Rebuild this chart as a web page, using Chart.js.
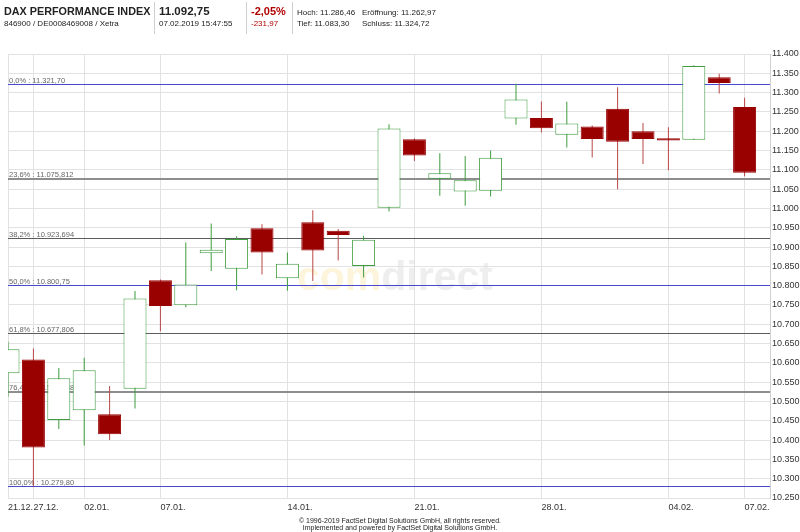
<!DOCTYPE html>
<html>
<head>
<meta charset="utf-8">
<script src="https://cdn.jsdelivr.net/npm/chart.js@4.4.1/dist/chart.umd.min.js"></script>
<style>
body { margin: 0; background: #fff; }
#wrap { position: relative; width: 800px; height: 532px; font-family: "Liberation Sans", Arial, sans-serif; color: #222; overflow: hidden; }
canvas { position: absolute; left: 0; top: 0; }
.t { position: absolute; white-space: nowrap; line-height: 1; }
.b { font-weight: bold; }
.s { font-size: 8px; }
.red { color: #b00000; }
.sep { position: absolute; top: 2px; width: 1px; height: 32px; background: #cfcfcf; }
.foot { position: absolute; left: 0; width: 800px; text-align: center; font-size: 7px; line-height: 1; }
</style>
</head>
<body>
<div id="wrap">
  <canvas id="dax" width="800" height="532"></canvas>
  <div class="t b" style="left:4px;top:6px;font-size:10.8px">DAX PERFORMANCE INDEX</div>
  <div class="t s" style="left:4px;top:20px">846900 / DE0008469008 / Xetra</div>
  <div class="sep" style="left:154px"></div>
  <div class="t b" style="left:159px;top:6px;font-size:11.5px">11.092,75</div>
  <div class="t s" style="left:159px;top:20px">07.02.2019 15:47:55</div>
  <div class="sep" style="left:246px"></div>
  <div class="t b red" style="left:251px;top:6px;font-size:11px">-2,05%</div>
  <div class="t s red" style="left:251px;top:20px">-231,97</div>
  <div class="sep" style="left:292px"></div>
  <div class="t s" style="left:297px;top:9px">Hoch: 11.286,46</div>
  <div class="t s" style="left:362px;top:9px">Eröffnung: 11.262,97</div>
  <div class="t s" style="left:297px;top:20px">Tief: 11.083,30</div>
  <div class="t s" style="left:362px;top:20px">Schluss: 11.324,72</div>
  <div class="foot" style="top:517px">© 1996-2019 FactSet Digital Solutions GmbH, all rights reserved.</div>
  <div class="foot" style="top:524px">Implemented and powered by FactSet Digital Solutions GmbH.</div>
</div>
<script>
// trading days shown in the chart
const days = ['21.12.', '27.12.', '28.12.', '02.01.', '03.01.', '04.01.', '07.01.', '08.01.', '09.01.', '10.01.',
  '11.01.', '14.01.', '15.01.', '16.01.', '17.01.', '18.01.', '21.01.', '22.01.', '23.01.', '24.01.',
  '25.01.', '28.01.', '29.01.', '30.01.', '31.01.', '01.02.', '04.02.', '05.02.', '06.02.', '07.02.'];
const tickDays = ['21.12.', '27.12.', '02.01.', '07.01.', '14.01.', '21.01.', '28.01.', '04.02.', '07.02.'];

const open  = [10573, 10609, 10452, 10477, 10467, 10533, 10814, 10749, 10884, 10844,
  10949, 10819, 10964, 10942, 10851, 11002, 11179, 11077, 11044, 11046,
  11233, 11234, 11191, 11212, 11258, 11200, 11182, 11178, 11340, 11262.97];
const high  = [10655, 10637, 10587, 10613, 10540, 10786, 10816, 10912, 10961, 10928,
  10959, 10886, 10995, 10947, 10929, 11218, 11181, 11143, 11136, 11150,
  11323, 11277, 11276, 11215, 11314, 11221, 11210, 11371, 11349, 11286.46];
const low   = [10512, 10279.8, 10429, 10386, 10400, 10482, 10682, 10744, 10838, 10788,
  10829, 10787, 10812, 10865, 10821, 10992, 11123, 11033, 11007, 11031,
  11217, 11197, 11158, 11132, 11050, 11115, 11099, 11177, 11298, 11083.30];
const close = [10635, 10381, 10560, 10581, 10415, 10767, 10747, 10803, 10893, 10921,
  10886, 10857, 10891, 10931, 10919, 11207, 11137, 11091, 11073, 11131,
  11282, 11208, 11220, 11180, 11173, 11180, 11176, 11369, 11324.72, 11092.75];

// fibonacci retracement levels
const fibPct = ['0,0%', '23,6%', '38,2%', '50,0%', '61,8%', '76,4%', '100,0%'];
const fibValues = [11321.70, 11075.812, 10923.694, 10800.75, 10677.806, 10525.688, 10279.80];
const fibStyle = [['#4848d0', 1], ['#8e8e8e', 2], ['#5c5c5c', 1], ['#4848d0', 1], ['#5c5c5c', 1], ['#8e8e8e', 2], ['#4848d0', 1]];

const GREEN = '#3f9c3f', RED = '#990000', RED_WICK = '#b94848';
const up = i => close[i] >= open[i];

function thousands(s) {
  return s.replace(/\B(?=(\d{3})+(?!\d))/g, '.');
}
function fmtFib(v) {
  let s = v.toFixed(3).replace(/0$/, '');
  let parts = s.split('.');
  return thousands(parts[0]) + ',' + parts[1];
}

const fibPlugin = {
  id: 'fib',
  beforeDraw(chart) {
    // faint comdirect watermark behind the grid
    const ctx = chart.ctx, a = chart.chartArea;
    ctx.save();
    ctx.font = 'bold 41px "Liberation Sans", Arial, sans-serif';
    ctx.textBaseline = 'alphabetic';
    const x = a.left + 289, y = a.top + 236;
    ctx.fillStyle = '#fdf4dc';
    ctx.fillText('com', x, y);
    ctx.fillStyle = '#eeeeee';
    ctx.fillText('direct', x + ctx.measureText('com').width, y);
    ctx.restore();
  },
  beforeDatasetsDraw(chart) {
    const ctx = chart.ctx, a = chart.chartArea, ys = chart.scales.y;
    ctx.save();
    ctx.font = '7.5px "Liberation Sans", Arial, sans-serif';
    fibValues.forEach((v, i) => {
      const y = ys.getPixelForValue(v);
      const w = fibStyle[i][1];
      const yy = w === 1 ? Math.round(y) + 0.5 : Math.round(y);
      ctx.strokeStyle = fibStyle[i][0];
      ctx.lineWidth = w;
      ctx.beginPath();
      ctx.moveTo(a.left, yy);
      ctx.lineTo(a.right, yy);
      ctx.stroke();
      ctx.fillStyle = '#666';
      ctx.fillText(fibPct[i] + ' : ' + fmtFib(v), a.left + 1, yy - 2);
    });
    ctx.restore();
  }
};

Chart.defaults.font.family = '"Liberation Sans", Arial, sans-serif';

new Chart(document.getElementById('dax'), {
  type: 'bar',
  data: {
    datasets: [
      {
        label: 'body',
        data: days.map((d, i) => ({ x: i, y: [open[i], close[i]] })),
        backgroundColor: c => up(c.dataIndex) ? '#ffffff' : RED,
        borderColor: c => up(c.dataIndex) ? GREEN : RED,
        borderWidth: 1,
        borderSkipped: false,
        barThickness: 23,
        inflateAmount: 0,
        grouped: false,
        clip: 0,
        order: 1
      },
      {
        label: 'wick',
        data: days.map((d, i) => ({ x: i, y: [low[i], high[i]] })),
        backgroundColor: c => up(c.dataIndex) ? GREEN : RED_WICK,
        borderWidth: 0,
        barThickness: 1,
        inflateAmount: 0,
        grouped: false,
        clip: 0,
        order: 2
      }
    ]
  },
  options: {
    responsive: false,
    animation: false,
    layout: { padding: { top: 54, left: 8, right: 0, bottom: 0 } },
    plugins: { legend: { display: false }, tooltip: { enabled: false } },
    scales: {
      x: {
        type: 'linear',
        min: 0,
        max: 30,
        offset: false,
        afterBuildTicks: s => { s.ticks = tickDays.map(d => ({ value: days.indexOf(d) })); },
        afterFit: s => { s.height = 34; },
        grid: { color: '#e2e2e2', drawTicks: false, offset: false },
        border: { color: '#e2e2e2' },
        ticks: {
          autoSkip: false, maxRotation: 0, align: 'start', padding: 4,
          color: '#333', font: { size: 9 },
          callback: v => days[v]
        }
      },
      y: {
        position: 'right',
        min: 10250,
        max: 11400,
        afterFit: s => { s.width = 30; },
        grid: { color: '#e2e2e2', drawTicks: false },
        border: { color: '#d0d0d0' },
        ticks: {
          stepSize: 50, padding: 2, color: '#333', font: { size: 9 },
          callback: v => thousands(String(v))
        }
      }
    }
  },
  plugins: [fibPlugin]
});
</script>
</body>
</html>
